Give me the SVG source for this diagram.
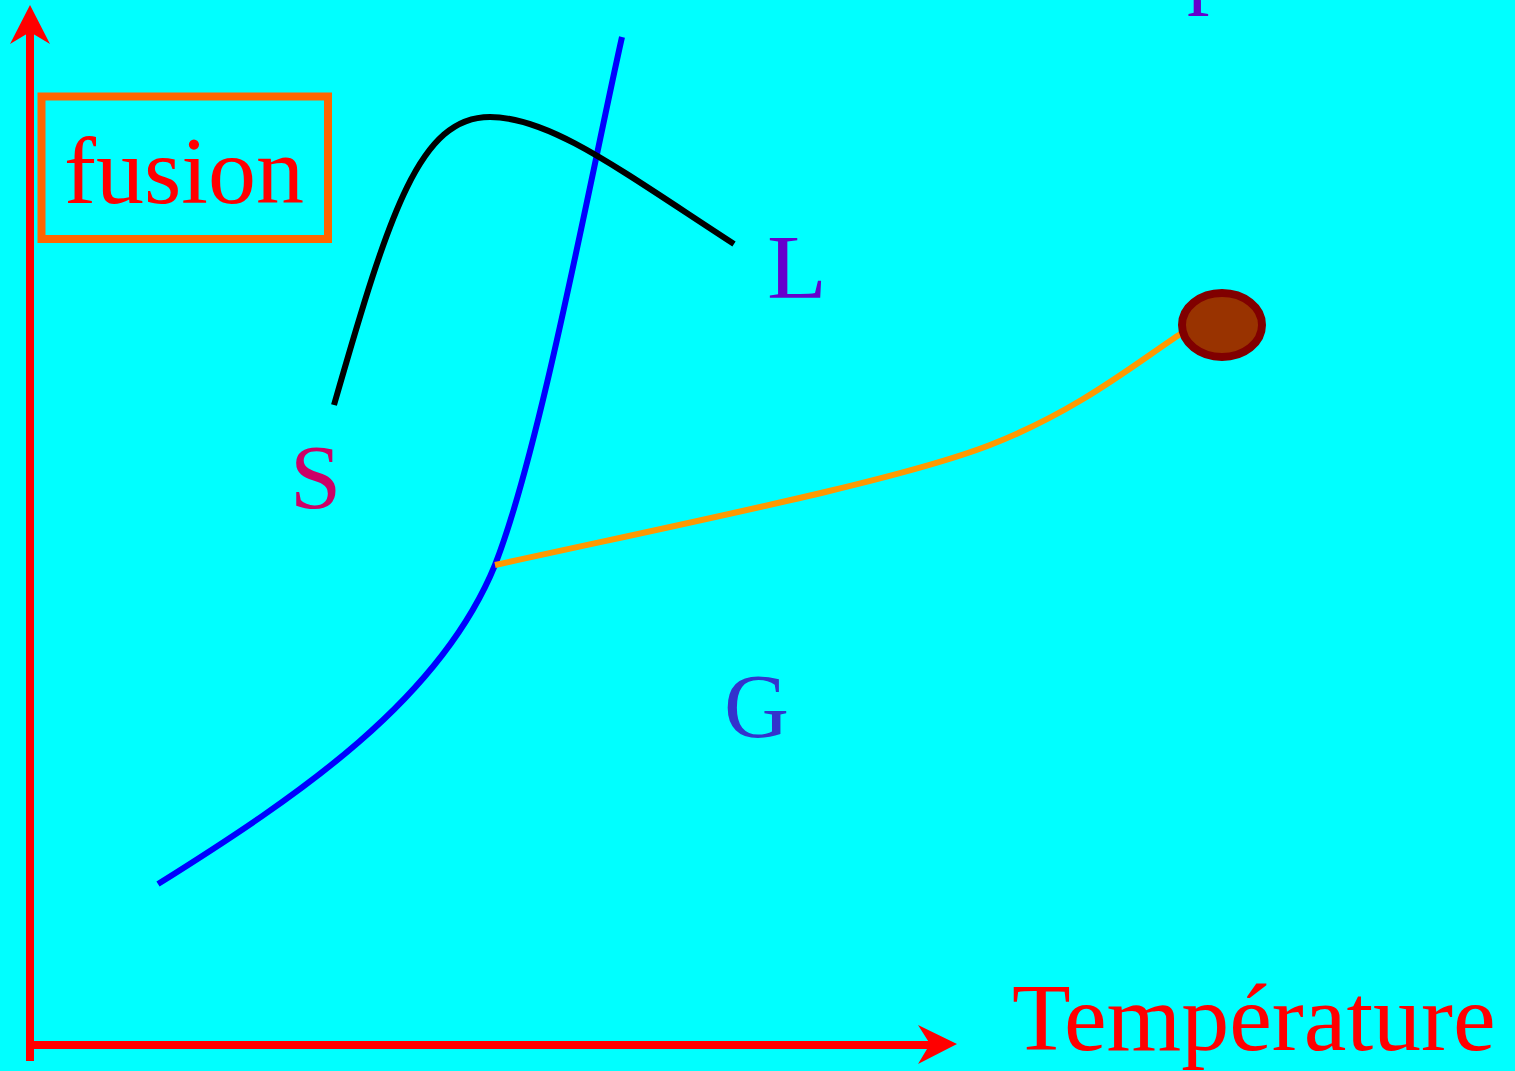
<svg xmlns="http://www.w3.org/2000/svg" width="1515" height="1071" viewBox="0 0 1515 1071">
<style>
.lbl{font-family:"Liberation Serif","Times New Roman",serif;}
.crv{fill:none;stroke-width:6;}
</style>
<rect x="0" y="0" width="1515" height="1071" fill="#00FFFF"/>
<g id="axes">
<line x1="30" y1="30" x2="30" y2="1061" stroke="#FF0000" stroke-width="8"/>
<polygon points="30,5 50,44 30,32 10,44" fill="#FF0000"/>
<line x1="26" y1="1045" x2="935" y2="1045" stroke="#FF0000" stroke-width="8"/>
<polygon points="957,1044 918,1064 930,1044 918,1025" fill="#FF0000"/>
</g>
<g id="connectors">
<path class="crv" stroke="#0000FF" d="M158,884 C300,795 440,700 495,565 C540,450 590,180 622,37"/>
<path class="crv" stroke="#000000" d="M334,405 C390,210 420,117 490,117 C550,117 620,170 734,244"/>
<path class="crv" stroke="#FF9900" d="M495,565 C700,520 900,480 990,445 C1080,410 1140,360 1182,333"/>
</g>
<g id="fusion">
<rect x="41.5" y="96.5" width="286.5" height="142.5" fill="none" stroke="#FF6600" stroke-width="8"/>
<text class="lbl" x="64" y="203" font-size="96" fill="#FF0000">fusion</text>
</g>
<g id="critical">
<ellipse cx="1222" cy="325" rx="40" ry="32" fill="#993300" stroke="#800000" stroke-width="8"/>
</g>
<g id="labelS"><text class="lbl" x="290" y="508" font-size="92" fill="#CC0066">S</text></g>
<g id="labelL"><text class="lbl" x="767" y="298" font-size="92" fill="#6600CC" textLength="60" lengthAdjust="spacingAndGlyphs">L</text></g>
<g id="labelG"><text class="lbl" x="724" y="737" font-size="90" fill="#3333CC">G</text></g>
<g id="labelP"><text class="lbl" x="1187" y="-3" font-size="90" fill="#6600CC">p</text></g>
<g id="labelT"><text class="lbl" x="1012" y="1050" font-size="96" fill="#FF0000">Température</text></g>
</svg>
